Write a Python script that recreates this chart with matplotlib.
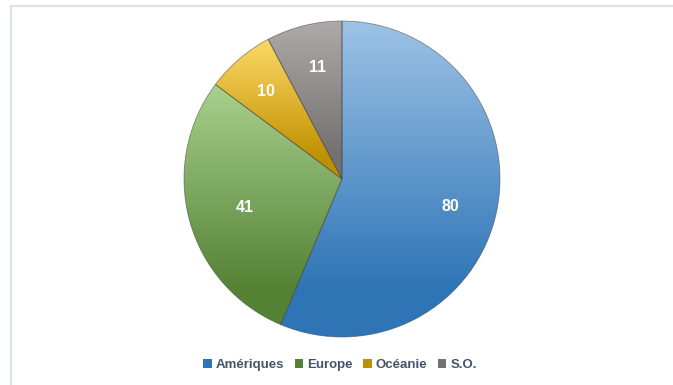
import numpy as np
import matplotlib
matplotlib.use("Agg")
import matplotlib.pyplot as plt
from matplotlib.colors import to_rgb
from matplotlib.patches import Patch, Rectangle

plt.rcParams['font.family'] = ['Liberation Sans', 'DejaVu Sans']

# Data
regions = ['Amériques', 'Europe', 'Océanie', 'S.O.']
counts = [80, 41, 10, 11]

# light tint at the top of each slice, base colour at the bottom
top_colors = ['#9DC3E6', '#A9D18E', '#FFD966', '#AEAAAA']
base_colors = ['#2E75B6', '#548235', '#BF9000', '#767171']

fig = plt.figure(figsize=(6.73, 3.85), dpi=100)

# light outline of the chart area
fig.patches.append(Rectangle((11 / 673, -0.1), 1.2, 1 - 6 / 385 + 0.1,
                             transform=fig.transFigure, fill=False,
                             edgecolor='#DDE2E8', linewidth=1.5))

ax = fig.add_axes([(342 - 158) / 673, 48 / 385, 316 / 673, 316 / 385])

wedges, _ = ax.pie(counts, startangle=90, counterclock=False, radius=1,
                   colors=['none'] * len(counts),
                   wedgeprops=dict(edgecolor=(0.25, 0.25, 0.25, 0.55), linewidth=0.6))


def ramp(c_top, c_bot, n=256):
    t = np.linspace(0, 1, n)
    t = np.clip(t / 0.85, 0, 1)[:, None]
    a = np.array(to_rgb(c_top))
    b = np.array(to_rgb(c_bot))
    return (a * (1 - t) + b * t)[:, None, :]


# fill each wedge with its own vertical gradient
for w, ct, cb in zip(wedges, top_colors, base_colors):
    ext = w.get_path().get_extents()
    img = ax.imshow(ramp(ct, cb), extent=(ext.x0, ext.x1, ext.y0, ext.y1),
                    origin='upper', aspect='auto', interpolation='bilinear',
                    zorder=w.get_zorder() - 0.1)
    img.set_clip_path(w)

# value labels, placed a little inside each slice
label_r = [0.71, 0.64, 0.735, 0.72]
label_shift = [-3.0, 1.0, 0.4, -1.3]
for w, v, r, s in zip(wedges, counts, label_r, label_shift):
    mid = np.deg2rad((w.theta1 + w.theta2) / 2 + s)
    ax.text(r * np.cos(mid), r * np.sin(mid), str(v), ha='center', va='center',
            color='white', fontsize=11.5, fontweight='bold', zorder=5)

ax.set_xlim(-1, 1)
ax.set_ylim(-1, 1)
ax.set_aspect('equal')
ax.axis('off')

handles = [Patch(facecolor=c) for c in base_colors]
fig.legend(handles, regions, loc='center', bbox_to_anchor=(340 / 673, 1 - 365 / 385),
           ncol=4, frameon=False, handlelength=0.65, handleheight=0.65,
           handletextpad=0.3, columnspacing=0.8,
           prop=dict(size=9.5, weight='bold'), labelcolor='#44546A')

fig.savefig('out.png', dpi=100)
